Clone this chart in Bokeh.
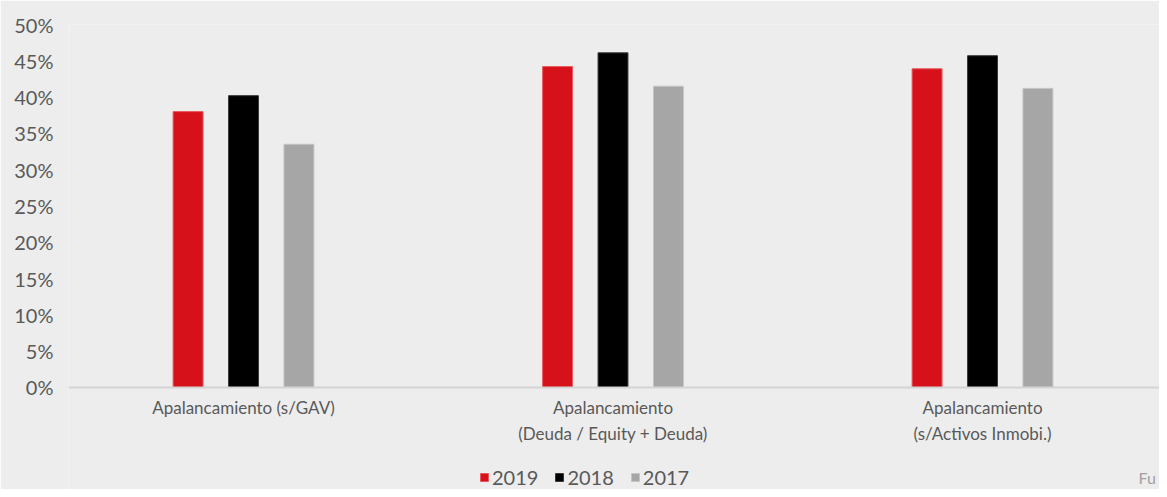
from bokeh.plotting import figure
from bokeh.models import ColumnDataSource, Legend, LegendItem, NumeralTickFormatter, FixedTicker, Range1d, Label
from bokeh.embed import file_html
from bokeh.resources import INLINE

categories = ["Apalancamiento (s/GAV)", "Apalancamiento\n(Deuda / Equity + Deuda)", "Apalancamiento\n(s/Activos Inmobi.)"]
years = ["2019", "2018", "2017"]
v2019 = [0.380, 0.442, 0.439]
v2018 = [0.402, 0.461, 0.457]
v2017 = [0.335, 0.415, 0.412]
colors = ["#D7111A", "#000000", "#A6A6A6"]
outlines = ["#E8585E", "#3A3A3A", "#C4C4C4"]

BG = "#EDEDED"
TXT = "#595959"

p = figure(width=1159, height=489, output_backend="svg", toolbar_location=None,
           x_range=Range1d(-0.4736, 2.479), y_range=Range1d(-0.1405, 0.5),
           background_fill_color=BG, border_fill_color=BG,
           min_border_left=68, min_border_right=0, min_border_top=24, min_border_bottom=0)
p.outline_line_color = None
p.xgrid.visible = False
p.ygrid.visible = False

xs = list(range(len(categories)))
offsets = [-0.15, 0.0, 0.15]
series = [v2019, v2018, v2017]
renderers = []
for yr, vals, off, c, oc in zip(years, series, offsets, colors, outlines):
    src = ColumnDataSource(dict(x=[x + off for x in xs], top=vals))
    r = p.vbar(x="x", top="top", width=0.081, bottom=0, source=src,
               fill_color=c, line_color=oc, line_width=1)
    renderers.append(r)

# y axis
p.yaxis.ticker = FixedTicker(ticks=[i * 0.05 for i in range(11)])
p.yaxis.formatter = NumeralTickFormatter(format="0%")
p.yaxis.axis_line_color = None
p.yaxis.major_tick_line_color = None
p.yaxis.minor_tick_line_color = None
p.yaxis.major_label_text_font = "Lato"
p.yaxis.major_label_text_font_size = "20px"
p.yaxis.major_label_text_color = TXT
p.yaxis.major_label_standoff = 9

# x axis, pinned at y = 0
p.xaxis.fixed_location = 0
p.xaxis.ticker = FixedTicker(ticks=xs)
p.xaxis.major_label_overrides = {i: c for i, c in enumerate(categories)}
p.xaxis.axis_line_color = "#D4D4D4"
p.xaxis.axis_line_width = 2
p.xaxis.major_tick_line_color = None
p.xaxis.minor_tick_line_color = None
p.xaxis.major_label_text_font = "Lato"
p.xaxis.major_label_text_font_size = "17px"
p.xaxis.major_label_text_color = TXT
p.xaxis.major_label_standoff = 4

legend = Legend(items=[LegendItem(label=y, renderers=[r]) for y, r in zip(years, renderers)],
                orientation="horizontal", location=(411, 0),
                background_fill_alpha=0, border_line_color=None,
                glyph_width=10, glyph_height=10, label_standoff=3, spacing=16,
                label_height=20, label_text_font="Lato", label_text_font_size="20px",
                label_text_color=TXT, padding=0, margin=0)
p.add_layout(legend, "center")

p.add_layout(Label(x=2.422, y=-0.1377, text="Fu", text_baseline="bottom",
                   text_font="Lato", text_font_size="16px", text_color="#A0A0A0"))

open("out.html", "w").write(file_html(p, INLINE))
